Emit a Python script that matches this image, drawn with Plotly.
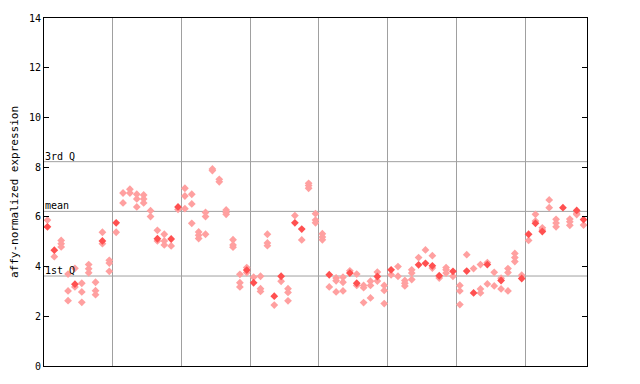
import plotly.graph_objects as go

# ---- data ----
open_vals = [
    [5.87], [4.40], [5.05, 4.92, 4.79], [3.70, 3.02, 2.63], [3.93, 3.18],
    [3.33, 2.98, 2.56], [4.08, 3.91, 3.75], [3.37, 3.03, 2.87], [5.38, 4.92], [4.25, 4.14, 3.81],
    [5.38], [6.96, 6.56], [7.11, 6.96], [6.91, 6.72, 6.40], [6.88, 6.72, 6.56],
    [6.25, 6.01], [5.46, 5.03], [5.30, 5.03, 4.87], [4.83], [6.30],
    [7.15, 6.84, 6.33], [6.91, 6.52, 5.74], [5.39, 5.26, 5.13], [6.18, 6.01, 5.30], [7.93, 7.86],
    [7.51, 7.41], [6.28, 6.19, 6.10], [5.08, 4.87, 4.78], [3.69, 3.35, 3.18], [3.96, 3.76],
    [3.57], [3.61, 3.11, 3.00], [5.30, 4.95, 4.84], [2.45], [3.41],
    [3.11, 2.96, 2.62], [6.05], [5.07], [7.35, 7.26, 7.15], [6.13, 5.87, 5.76],
    [5.32, 5.19, 5.08], [3.18], [3.54, 3.43, 2.98], [3.57, 3.37, 3.02], [3.83],
    [3.70, 3.24], [3.24, 3.15, 2.55], [3.41, 3.24, 2.74], [3.78, 3.42], [3.24, 3.04, 2.51],
    [3.67], [4.00, 3.61], [3.44, 3.33, 3.22], [3.87, 3.74, 3.48], [4.36],
    [4.67], [4.44, 3.94], [3.54], [3.96, 3.87, 3.74], [3.61],
    [3.24, 3.02, 2.47], [4.48], [3.92], [4.08, 3.10, 2.94], [4.16, 3.30],
    [3.77, 3.22], [3.53, 3.10], [3.92, 3.76, 3.02], [4.53, 4.36, 4.20], [3.65],
    [5.05], [6.10, 5.83], [5.56, 5.47], [6.68, 6.37], [5.90, 5.75, 5.60],
    [], [5.91, 5.80, 5.66], [6.15, 6.09], [5.67],
]
filled_vals = [
    5.60, 4.66, None, None, 3.29, None, None, None, 5.03, None,
    5.76, None, None, None, None, None, 5.12, None, 5.11, 6.40,
    None, None, None, None, None, None, None, None, None, 3.86,
    3.35, None, None, 2.81, 3.61, None, 5.76, 5.51, None, None,
    None, 3.67, None, None, 3.74, 3.33, None, None, 3.60, None,
    3.87, None, None, None, 4.07, 4.13, 4.03, 3.63, None, 3.81,
    None, 3.82, 2.94, None, 4.08, None, 3.44, None, None, 3.52,
    5.30, 5.74, 5.41, None, None, 6.37, None, 6.26, 5.89,
]
group_bounds = [10.5, 20.5, 30.5, 40.5, 50.5, 60.5, 70.5]
stat_names = ["3rd Q", "mean", "1st Q"]
stat_vals = [8.22, 6.22, 3.62]
y_ticks = [0, 2, 4, 6, 8, 10, 12, 14]

n = len(open_vals)
ox, oy = [], []
for i, vals in enumerate(open_vals):
    for v in vals:
        ox.append(i + 1)
        oy.append(v)
fx = [i + 1 for i, v in enumerate(filled_vals) if v is not None]
fy = [v for v in filled_vals if v is not None]

fig = go.Figure()
fig.add_trace(go.Scatter(x=ox, y=oy, mode="markers",
                         marker=dict(symbol="diamond", size=6, color="#ffa0a0",
                                     line=dict(width=0)),
                         hoverinfo="y", showlegend=False))
fig.add_trace(go.Scatter(x=fx, y=fy, mode="markers",
                         marker=dict(symbol="diamond", size=6, color="#ff5050",
                                     line=dict(width=0)),
                         hoverinfo="y", showlegend=False))

for name, v in zip(stat_names, stat_vals):
    fig.add_shape(type="line", xref="paper", x0=0, x1=1, yref="y", y0=v, y1=v,
                  line=dict(color="#a0a0a0", width=1), layer="below")
    fig.add_annotation(xref="paper", x=0, y=v, yref="y", text=name, showarrow=False,
                       xanchor="left", yanchor="bottom", xshift=-1, yshift=-2,
                       font=dict(family="DejaVu Sans Mono", size=10, color="black"))

mono = "DejaVu Sans Mono"
fig.update_layout(
    width=640, height=384,
    margin=dict(l=44, r=53, t=13, b=15),
    paper_bgcolor="white", plot_bgcolor="white",
    font=dict(family=mono, size=10, color="black"),
    xaxis=dict(range=[0.5, n + 0.5], tickmode="array", tickvals=group_bounds,
               showticklabels=False, ticks="", showgrid=True, gridcolor="#a0a0a0",
               gridwidth=1, zeroline=False, showline=True, linecolor="black",
               linewidth=1, mirror=True),
    yaxis=dict(range=[0, 14], tickmode="array", tickvals=y_ticks,
               ticks="inside", ticklen=5, tickcolor="black", showgrid=False,
               zeroline=False, showline=True, linecolor="black", linewidth=1,
               mirror="ticks",
               title=dict(text="affy-normalized expression",
                          font=dict(family=mono, size=11), standoff=8),
               tickfont=dict(family=mono, size=10)),
)

fig.write_html("out.html")
